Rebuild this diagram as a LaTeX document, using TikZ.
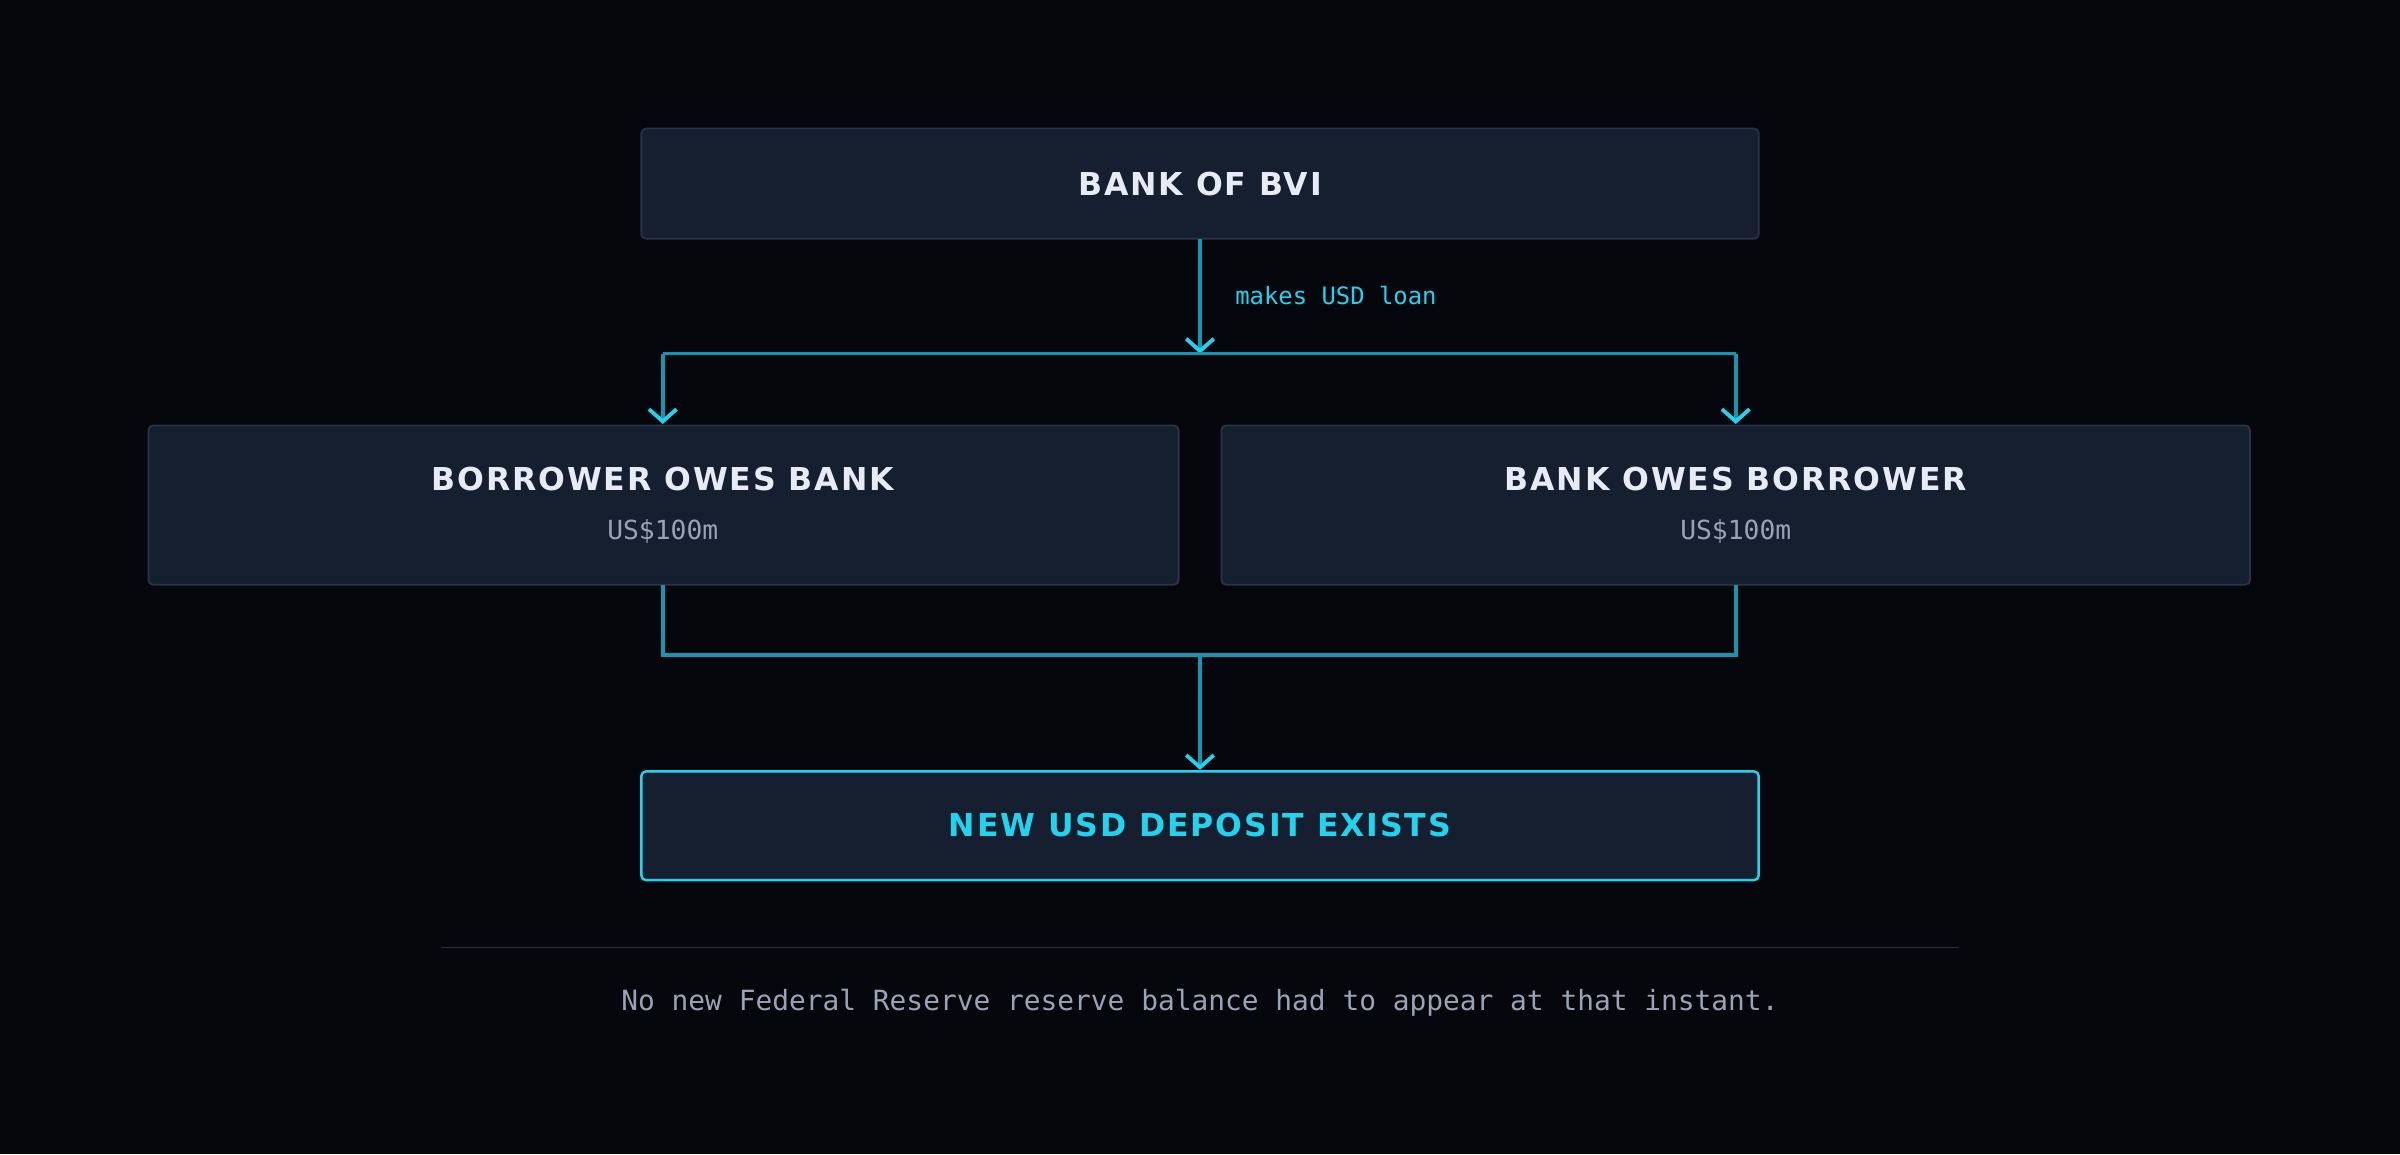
\documentclass[tikz,border=0pt]{standalone}
\usepackage{fontspec}
\setmainfont{DejaVu Sans}
\newfontfamily\monof{DejaVu Sans Mono}
\usetikzlibrary{arrows.meta}
\definecolor{bg}{HTML}{05070D}
\definecolor{boxfill}{HTML}{161F30}
\definecolor{boxline}{HTML}{2A3346}
\definecolor{cyanc}{HTML}{22D3EE}
\definecolor{wire}{HTML}{1596B0}
\definecolor{titlec}{HTML}{E6EBF5}
\definecolor{subc}{HTML}{9AA3B5}
\definecolor{rulec}{HTML}{2B2D4A}
\begin{document}
\begin{tikzpicture}[x=0.5pt,y=-0.5pt,
  box/.style={draw=boxline,fill=boxfill,line width=0.6pt,rounded corners=1.5pt},
  ttl/.style={font=\bfseries\addfontfeature{LetterSpace=6}\fontsize{10.3}{12}\selectfont,text=titlec},
  sub/.style={font=\monof\fontsize{8.6}{10}\selectfont,text=subc},
  wire/.style={draw=wire,line width=1.25pt},
  arr/.style={wire,-{Straight Barb[length=4pt,width=9pt,line width=1.25pt,color=cyanc]}}]
\fill[bg] (0,0) rectangle (1568,754);
\useasboundingbox (0,0) rectangle (1568,754);
% boxes
\draw[box] (419,84) rectangle (1149,156);
\node[ttl] (top) at (784,120) {BANK OF BVI};
\draw[box] (97,278) rectangle (770,382);
\node[ttl] (lt) at (433,313) {BORROWER OWES BANK};
\node[sub] (ls) at (433,347) {US\$100m};
\draw[box] (798,278) rectangle (1470,382);
\node[ttl] (rt) at (1134,313) {BANK OWES BORROWER};
\node[sub] (rs) at (1134,347) {US\$100m};
\draw[box,draw=cyanc,line width=0.8pt] (419,504) rectangle (1149,575);
\node[ttl,text=cyanc] (bot) at (784,539) {NEW USD DEPOSIT EXISTS};
% named points
\coordinate (topb) at (784,156);
\coordinate (s) at (784,231);
\coordinate (sl) at (433,231);
\coordinate (sr) at (1134,231);
\coordinate (lin) at (433,277);
\coordinate (rin) at (1134,277);
\coordinate (lout) at (433,382);
\coordinate (rout) at (1134,382);
\coordinate (jl) at (433,428);
\coordinate (jr) at (1134,428);
\coordinate (j) at (784,428);
\coordinate (botin) at (784,503);
% connectors
\draw[arr] (topb) -- (s);
\node[anchor=west,font=\monof\fontsize{7.8}{9}\selectfont,text=cyanc] (lab) at (800,193) {makes USD loan};
\draw[wire] (sl) -- (sr);
\draw[arr] (sl) -- (lin);
\draw[arr] (sr) -- (rin);
\draw[wire] (lout) -- (jl) -- (jr) -- (rout);
\draw[arr] (j) -- (botin);
% footer
\coordinate (ra) at (288,619);
\coordinate (rb) at (1280,619);
\draw[rulec,line width=0.6pt] (ra) -- (rb);
\node[sub,font=\monof\fontsize{9.1}{11}\selectfont] (foot) at (784,655) {No new Federal Reserve reserve balance had to appear at that instant.};
\end{tikzpicture}
\end{document}
